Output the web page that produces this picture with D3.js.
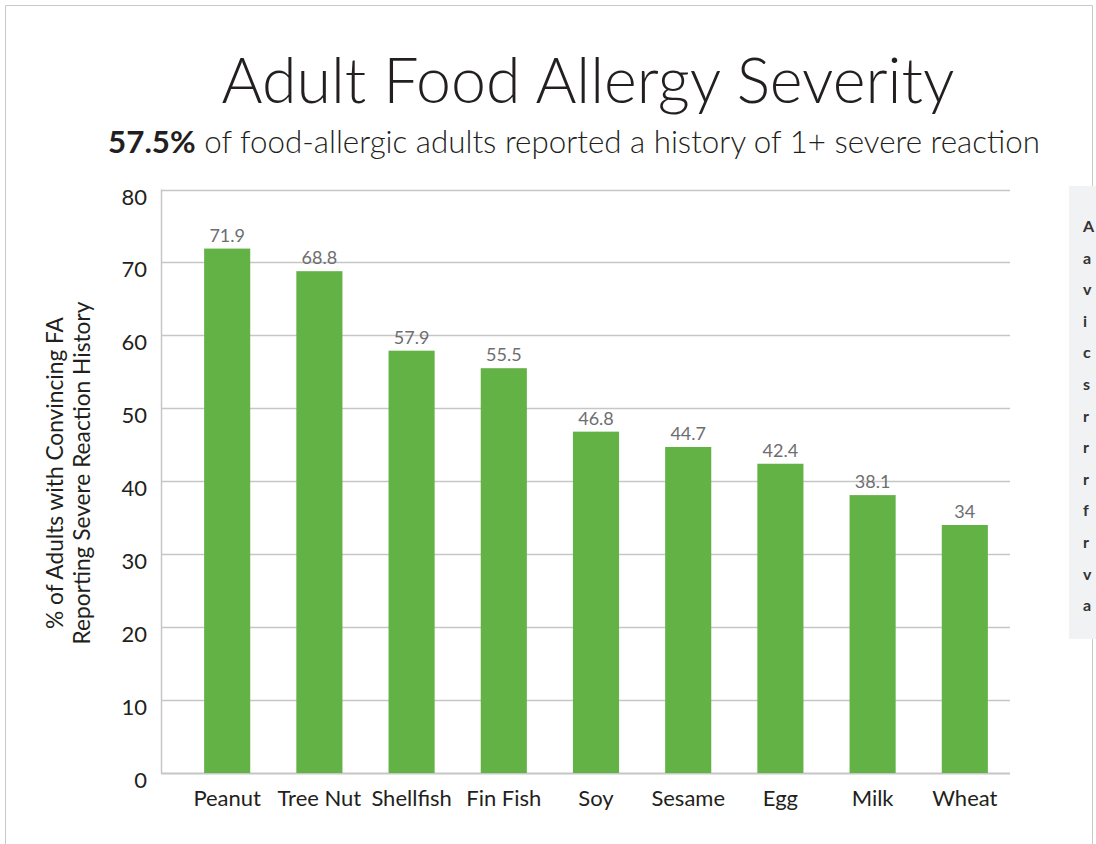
<!DOCTYPE html>
<html>
<head>
<meta charset="utf-8">
<script src="https://cdn.jsdelivr.net/npm/d3@7"></script>
<style>
    body { margin: 0; background: #fff; }
    svg { display: block; font-family: Lato, "Open Sans", sans-serif; }
</style>
</head>
<body>
<script>
// data
const foods = ["Peanut", "Tree Nut", "Shellfish", "Fin Fish", "Soy", "Sesame", "Egg", "Milk", "Wheat"];
const severePct = [71.9, 68.8, 57.9, 55.5, 46.8, 44.7, 42.4, 38.1, 34];
const yTicks = [0, 10, 20, 30, 40, 50, 60, 70, 80];
const axisTitle = ["% of Adults with Convincing FA", "Reporting Severe Reaction History"];
const sideLetters = ["A", "a", "v", "i", "c", "s", "r", "r", "r", "f", "r", "v", "a"];

const width = 1096, height = 844;

const svg = d3.select("body").append("svg")
    .attr("width", width)
    .attr("height", height);

// shrink/grow font so the text spans roughly the width seen in the picture
function fitText(sel, target) {
    let size = parseFloat(sel.attr("font-size"));
    let w = sel.node().getComputedTextLength();
    sel.attr("font-size", (size * target / w).toFixed(2));
}

// outer frame (top, left, right edges)
svg.append("path")
    .attr("d", "M5.5,844 V5.5 H1092.5 V844")
    .attr("fill", "none")
    .attr("stroke", "#c9c9c9")
    .attr("stroke-width", 1);

// side panel, mostly outside the window
svg.append("rect")
    .attr("x", 1069).attr("y", 186)
    .attr("width", 40).attr("height", 453)
    .attr("fill", "#f1f2f4");

svg.append("g").selectAll("text")
    .data(sideLetters)
    .enter().append("text")
    .attr("x", 1083)
    .attr("y", (d, i) => 232 + i * 31.6)
    .attr("font-size", 16)
    .attr("font-weight", 700)
    .attr("fill", "#333")
    .text(d => d);

// titles
let title = svg.append("text")
    .attr("x", 588).attr("y", 103)
    .attr("text-anchor", "middle")
    .attr("font-size", 60)
    .attr("font-weight", 300)
    .attr("fill", "#231f20")
    .text("Adult Food Allergy Severity");
fitText(title, 733);

let sub = svg.append("text")
    .attr("x", 574).attr("y", 153)
    .attr("text-anchor", "middle")
    .attr("font-size", 28)
    .attr("fill", "#231f20");
sub.append("tspan").attr("font-weight", 700).text("57.5%");
sub.append("tspan").attr("font-weight", 300).text(" of food-allergic adults reported a history of 1+ severe reaction");
fitText(sub, 932);

// scales
const y = d3.scaleLinear()
    .domain([0, 80])
    .range([773, 189.5]);

const x = d3.scaleBand()
    .domain(foods)
    .range([182, 1010])
    .paddingInner(0.5)
    .paddingOuter(0.24);

const plotLeft = 161, plotRight = 1010;

// gridlines
svg.append("g").selectAll("line")
    .data(yTicks)
    .enter().append("line")
    .attr("x1", plotLeft).attr("x2", plotRight)
    .attr("y1", d => Math.round(y(d)) + 0.5)
    .attr("y2", d => Math.round(y(d)) + 0.5)
    .attr("stroke", "#c6c6c6")
    .attr("stroke-width", d => d === 0 ? 2 : 1.5);

svg.append("line")
    .attr("x1", plotLeft + 0.5).attr("x2", plotLeft + 0.5)
    .attr("y1", y(80)).attr("y2", y(0))
    .attr("stroke", "#c6c6c6")
    .attr("stroke-width", 1.5);

// y tick labels
svg.append("g").selectAll("text")
    .data(yTicks)
    .enter().append("text")
    .attr("x", 147)
    .attr("y", d => y(d) + 15)
    .attr("text-anchor", "end")
    .attr("font-size", 22)
    .attr("fill", "#231f20")
    .text(d => d);

// bars
svg.append("g").selectAll("rect")
    .data(severePct)
    .enter().append("rect")
    .attr("x", (d, i) => x(foods[i]))
    .attr("y", d => y(d))
    .attr("width", x.bandwidth())
    .attr("height", d => y(0) - y(d))
    .attr("fill", "#63b246");

// value labels
svg.append("g").selectAll("text")
    .data(severePct)
    .enter().append("text")
    .attr("x", (d, i) => x(foods[i]) + x.bandwidth() / 2)
    .attr("y", d => y(d) - 7)
    .attr("text-anchor", "middle")
    .attr("font-size", 18)
    .attr("fill", "#6d6e70")
    .text(d => d);

// category labels
svg.append("g").selectAll("text")
    .data(foods)
    .enter().append("text")
    .attr("x", d => x(d) + x.bandwidth() / 2)
    .attr("y", 806)
    .attr("text-anchor", "middle")
    .attr("font-size", 22)
    .attr("fill", "#231f20")
    .text(d => d);

// rotated axis title, two lines
let yTitle = svg.append("g")
    .attr("transform", "translate(0,473) rotate(-90)");

yTitle.selectAll("text")
    .data(axisTitle)
    .enter().append("text")
    .attr("x", 0)
    .attr("y", (d, i) => 63 + i * 27)
    .attr("text-anchor", "middle")
    .attr("font-size", 22)
    .attr("fill", "#231f20")
    .text(d => d);
fitText(yTitle.select("text:last-child"), 343);
yTitle.select("text:first-child")
    .attr("font-size", yTitle.select("text:last-child").attr("font-size"));
</script>
</body>
</html>
